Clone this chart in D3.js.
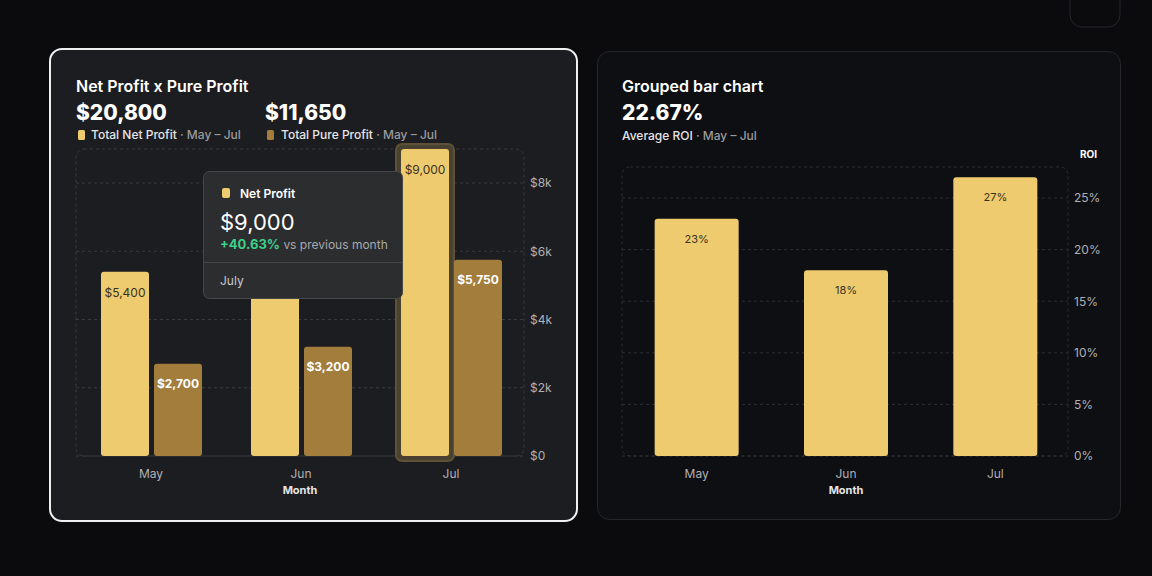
<!DOCTYPE html>
<html><head><meta charset="utf-8">
<script src="https://cdn.jsdelivr.net/npm/d3@7"></script>
<style>body{margin:0;background:#0b0b0e;font-family:Inter,"Noto Sans",sans-serif}</style>
</head><body><svg id="c" width="1152" height="576"></svg>
<script>
const months=["May","Jun","Jul"];
const netProfit=[5400,6400,9000];
const pureProfit=[2700,3200,5750];
const profitTicks=[0,2000,4000,6000,8000];
const roi=[23,18,27];
const roiTicks=[0,5,10,15,20,25];

const svg=d3.select("#c");
svg.append("rect").attr("x",1070).attr("y",-20).attr("width",50).attr("height",47).attr("rx",12).attr("fill","none").attr("stroke","#26272b");
// cards
svg.append("rect").attr("x",50).attr("y",49).attr("width",527).attr("height",472).attr("rx",12).attr("fill","#1c1d21").attr("stroke","#f0f0f0").attr("stroke-width",2);
svg.append("rect").attr("x",597.5).attr("y",51.5).attr("width",523).attr("height",468).attr("rx",12).attr("fill","#0e0f12").attr("stroke","#26272b");

function txt(x,y,s,size,fill,weight,anchor){return svg.append("text").attr("x",x).attr("y",y).text(s).attr("font-size",size).attr("fill",fill).attr("font-weight",weight||400).attr("text-anchor",anchor||"start");}
const gold="#eecb6e",brown="#a27d3b";
// left header
txt(76,92,"Net Profit x Pure Profit",16,"#fff",600);
txt(76,120,"$20,800",21,"#fff",800);
txt(265,120,"$11,650",21,"#fff",800);
svg.append("rect").attr("x",78).attr("y",130).attr("width",7).attr("height",10).attr("rx",1.5).attr("fill",gold);
svg.append("rect").attr("x",267).attr("y",130).attr("width",7).attr("height",10).attr("rx",1.5).attr("fill",brown);
let t=txt(91,139,"",12,"#e6e6e6",500);t.append("tspan").text("Total Net Profit");t.append("tspan").attr("fill","#9a9a9e").text(" · May – Jul");
t=txt(281,139,"",12,"#e6e6e6",500);t.append("tspan").text("Total Pure Profit");t.append("tspan").attr("fill","#9a9a9e").text(" · May – Jul");

// left chart
const x=d3.scaleBand().domain(months).range([76,526]);
const y=d3.scaleLinear().domain([0,8000]).range([456,183]);
const g=svg.append("g");
g.append("rect").attr("x",76).attr("y",149).attr("width",448).attr("height",307).attr("rx",8).attr("fill","none").attr("stroke","#3a3b40").attr("stroke-dasharray","3,3");
profitTicks.forEach(v=>{g.append("line").attr("x1",76).attr("x2",524).attr("y1",y(v)).attr("y2",y(v)).attr("stroke","#3a3b40").attr("stroke-dasharray","3,3");});
const ya=svg.append("g").attr("transform","translate(524,0)").call(d3.axisRight(y).tickValues(profitTicks).tickFormat(d=>d===0?"$0":"$"+d/1000+"k").tickSize(0).tickPadding(6));
ya.select(".domain").remove();ya.selectAll("text").attr("fill","#b0b0b4").attr("font-size",12).attr("font-family","Inter");
// highlight
const jx=x("Jul")+x.bandwidth()/2;
svg.append("rect").attr("x",jx-55).attr("y",144).attr("width",58).attr("height",317).attr("rx",6).attr("fill","#4a4230").attr("stroke","#5e5236").attr("stroke-width",2);
months.forEach((m,i)=>{
 const c=x(m)+x.bandwidth()/2;
 svg.append("rect").attr("x",c-50).attr("y",y(netProfit[i])).attr("width",48).attr("height",456-y(netProfit[i])).attr("rx",3).attr("fill",gold);
 svg.append("rect").attr("x",c+3).attr("y",y(pureProfit[i])).attr("width",48).attr("height",456-y(pureProfit[i])).attr("rx",3).attr("fill",brown);
 txt(c-26,y(netProfit[i])+25,"$"+d3.format(",")(netProfit[i]),12,"#3a3220",400,"middle");
 txt(c+27,y(pureProfit[i])+24,"$"+d3.format(",")(pureProfit[i]),12,"#fff",700,"middle");
 txt(c,478,m,12,"#b0b0b4",400,"middle");
});
txt(300,494,"Month",11,"#e6e6e6",700,"middle");
// tooltip
svg.append("rect").attr("x",203.5).attr("y",171.5).attr("width",199).attr("height",127).attr("rx",6).attr("fill","#2c2d2f").attr("stroke","#454648");
svg.append("line").attr("x1",204).attr("x2",402).attr("y1",262.5).attr("y2",262.5).attr("stroke","#444547");
svg.append("rect").attr("x",222).attr("y",188).attr("width",8).attr("height",10).attr("rx",2).attr("fill",gold);
txt(240,198,"Net Profit",12,"#fff",600);
txt(220,230,"$9,000",22,"#fff",400);
t=txt(220,249,"",13,"#3ed08a",700);t.append("tspan").text("+40.63%");t.append("tspan").attr("fill","#a8a8ac").attr("font-weight",400).attr("font-size",12).text(" vs previous month");
txt(220,285,"July",12,"#c8c8cc",400);

// right
txt(622,92,"Grouped bar chart",16,"#fff",600);
txt(622,120,"22.67%",21,"#fff",800);
t=txt(622,140,"",12,"#e6e6e6",500);t.append("tspan").text("Average ROI");t.append("tspan").attr("fill","#9a9a9e").text(" · May – Jul");
txt(1097,158,"ROI",10,"#fff",700,"end");
const x2=d3.scaleBand().domain(months).range([622,1070]);
const y2=d3.scaleLinear().domain([0,25]).range([456,198]);
svg.append("rect").attr("x",622).attr("y",167).attr("width",446).attr("height",289).attr("rx",8).attr("fill","none").attr("stroke","#2e2f33").attr("stroke-dasharray","3,3");
roiTicks.forEach(v=>{svg.append("line").attr("x1",622).attr("x2",1068).attr("y1",y2(v)).attr("y2",y2(v)).attr("stroke","#2e2f33").attr("stroke-dasharray","3,3");});
const ya2=svg.append("g").attr("transform","translate(1068,0)").call(d3.axisRight(y2).tickValues(roiTicks).tickFormat(d=>d+"%").tickSize(0).tickPadding(6));
ya2.select(".domain").remove();ya2.selectAll("text").attr("fill","#b0b0b4").attr("font-size",12).attr("font-family","Inter");
months.forEach((m,i)=>{
 const c=x2(m)+x2.bandwidth()/2;
 svg.append("rect").attr("x",c-42).attr("y",y2(roi[i])).attr("width",84).attr("height",456-y2(roi[i])).attr("rx",3).attr("fill",gold);
 txt(c,y2(roi[i])+24,roi[i]+"%",11,"#3a3220",400,"middle");
 txt(c,478,m,12,"#b0b0b4",400,"middle");
});
txt(846,494,"Month",11,"#e6e6e6",700,"middle");
</script></body></html>
